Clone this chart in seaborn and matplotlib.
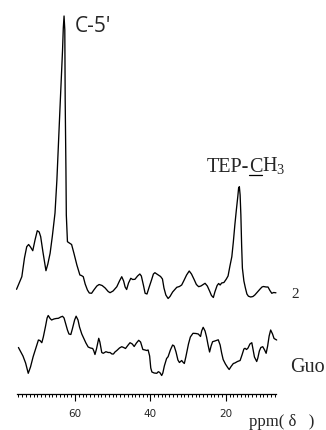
import numpy as np
import pandas as pd
import matplotlib
matplotlib.use("Agg")
import matplotlib.pyplot as plt
from matplotlib.ticker import FixedLocator
import seaborn as sns

# 13C CP/MAS spectra: chemical shift (ppm) and relative intensity (a.u.)
ppm_2 = [75.5, 74.1, 73.4, 72.8, 72.3, 71.8, 71.2, 70.6, 70.0, 69.5, 69.1, 68.5,
         67.7, 67.2, 66.6, 66.0, 65.3, 64.8, 64.0, 63.3, 63.1, 62.9, 62.7, 62.6,
         62.4, 62.3, 62.0, 61.5, 60.9, 60.3, 59.5, 58.7, 58.3, 57.8, 57.3, 56.7,
         56.2, 55.6, 55.0, 54.2, 53.6, 52.8, 52.0, 51.2, 50.7, 49.9, 48.9, 48.2,
         47.6, 47.1, 46.7, 46.3, 45.8, 45.2, 44.7, 44.1, 43.4, 42.8, 42.4, 41.8,
         41.4, 40.9, 40.4, 39.7, 39.2, 38.8, 38.1, 37.3, 36.8, 36.4, 35.9, 35.3,
         34.8, 34.1, 33.0, 32.3, 31.7, 31.1, 30.4, 29.7, 29.1, 28.4, 27.8, 27.2,
         26.6, 25.5, 24.9, 24.3, 23.8, 23.3, 22.9, 22.3, 21.9, 21.5, 21.1, 20.5,
         19.9, 19.4, 18.9, 18.4, 18.0, 17.6, 17.2, 16.8, 16.6, 16.4, 16.2, 16.0,
         15.8, 15.6, 15.2, 14.8, 14.4, 14.0, 13.4, 12.8, 12.3, 11.6, 10.9, 10.4,
         10.0, 9.3, 8.8, 8.3, 7.8, 7.3, 6.7]
int_2 = [10.7, 23.3, 42, 53.3, 55.5, 53, 49.3, 60, 69.3, 68, 63.3, 48,
         29.3, 36, 46.7, 64, 87, 120, 190, 250, 272, 284, 270, 200,
         130, 85, 58.3, 57, 55.5, 47, 35, 25, 24.5, 23.3, 16, 10,
         7, 6.7, 10, 14, 15.5, 14.5, 12, 8.5, 7.3, 9, 13.3, 19,
         23.3, 19, 13, 10.5, 17, 21.7, 20.5, 20.7, 24, 26, 24, 14,
         6.7, 6, 12, 20, 26, 27.3, 25.5, 23.5, 21, 12, 5, 1.5,
         3.5, 8, 12.7, 13.5, 15, 19.5, 25, 29, 26, 20.5, 15.5, 13.3,
         14, 16.7, 14, 9, 4.5, 2.5, 8, 14.5, 16.5, 15, 17, 17.5,
         20.7, 24, 34, 43.3, 58, 75, 90, 104, 112, 113.3, 105, 85,
         55, 32, 19, 12, 6, 3.8, 3, 3.5, 5, 8, 11, 13,
         13.5, 13, 13, 9.5, 6.7, 7.5, 7.2]

ppm_guo = [75.0, 74.5, 73.8, 73.1, 72.4, 71.8, 71.1, 70.3, 69.7, 69.3, 68.8, 68.4,
           67.8, 67.4, 67.1, 66.6, 66.2, 65.6, 65.0, 64.4, 63.8, 63.3, 62.9, 62.5,
           62.0, 61.6, 61.1, 60.7, 60.1, 59.7, 59.2, 58.8, 58.2, 57.6, 57.1, 56.5,
           55.9, 55.3, 55.0, 54.7, 54.3, 53.7, 53.4, 52.9, 52.5, 51.8, 51.2, 50.7,
           50.2, 49.8, 49.4, 48.9, 48.2, 47.6, 47.1, 46.6, 45.9, 45.4, 44.8, 44.3,
           43.7, 43.1, 42.6, 42.0, 41.4, 41.0, 40.6, 40.2, 39.9, 39.6, 39.0, 38.3,
           37.9, 37.5, 37.0, 36.7, 36.3, 35.7, 35.3, 34.7, 34.1, 33.7, 33.2, 32.7,
           32.3, 31.7, 31.4, 31.0, 30.6, 29.9, 29.4, 28.7, 27.9, 27.3, 26.7, 26.4,
           26.0, 25.5, 25.1, 24.7, 24.3, 23.9, 23.5, 22.9, 22.0, 21.5, 21.1, 20.7,
           20.1, 19.5, 19.1, 18.6, 18.0, 17.6, 16.9, 16.2, 15.7, 15.2, 14.9, 14.5,
           14.1, 13.6, 13.1, 12.8, 12.4, 11.8, 11.5, 11.1, 10.7, 10.2, 9.7, 9.3,
           8.9, 8.5, 8.1, 7.6, 7.2, 6.5]
int_guo = [32.5, 29, 24, 17, 6.7, 13, 23.3, 33, 40, 39.5, 37.3, 43,
           54, 62, 64.5, 61.5, 60, 61, 61.5, 61.7, 63, 63.7, 62, 56.5,
           50, 46, 45.5, 51, 60, 63.8, 60, 53, 46, 41, 37, 33,
           32, 31.5, 29, 25.5, 31, 41.7, 38, 27.5, 26.7, 28.3, 27.5, 27.5,
           26, 26, 28, 29.5, 32, 33.3, 32.5, 31.5, 35, 37.3, 36, 33.5,
           37, 39.7, 38, 30.5, 30, 29.5, 30, 24, 12, 8, 7, 6.7,
           8.3, 7.5, 4.5, 7, 14, 21.5, 23.3, 30, 35, 34, 28, 20,
           17.5, 19.5, 18, 16.5, 23, 36, 43, 46.7, 46.5, 46, 43.5, 49,
           52.7, 49, 43, 35, 28, 34, 38.3, 39, 40.2, 35, 27, 20.5,
           16, 12.5, 10.5, 13.5, 16.5, 17, 18.5, 19.5, 25, 31, 31.7, 30.5,
           32, 36, 37.3, 31, 23, 18.5, 22, 29, 32.5, 33.3, 30, 26.7,
           34, 44, 50, 46, 41.5, 40]

tick_major = [60, 40, 20]
tick_minor = list(range(7, 76))
scale_range = (6.7, 75.4)
trace_labels = ["2", "Guo"]
axis_label = "ppm( \u03b4   )"

sns.set_theme(style="white")
plt.rcParams["mathtext.fontset"] = "custom"
plt.rcParams["mathtext.rm"] = "Liberation Serif"

fig = plt.figure(figsize=(3.26, 4.30), dpi=100)
ax = fig.add_axes([0, 0, 1, 1])
ax.set_xlim(79.89, -6.58)
ax.set_ylim(0, 430)

# vertical stacking of the two spectra
offset_2, offset_guo = 130, 50
df2 = pd.DataFrame({"ppm": ppm_2, "y": np.array(int_2) + offset_2})
dfg = pd.DataFrame({"ppm": ppm_guo, "y": np.array(int_guo) + offset_guo})
sns.lineplot(data=df2, x="ppm", y="y", ax=ax, color="black", lw=0.95,
             estimator=None, sort=False)
sns.lineplot(data=dfg, x="ppm", y="y", ax=ax, color="black", lw=0.95,
             estimator=None, sort=False)

# ppm scale
for s in ["left", "top", "right"]:
    ax.spines[s].set_visible(False)
ax.spines["bottom"].set_position(("data", 36.5))
ax.spines["bottom"].set_bounds(*scale_range)
ax.spines["bottom"].set_color("black")
ax.spines["bottom"].set_linewidth(0.9)
ax.xaxis.set_major_locator(FixedLocator(tick_major))
ax.xaxis.set_minor_locator(FixedLocator(tick_minor))
ax.set_xticklabels([str(t) for t in tick_major])
ax.tick_params(axis="x", which="major", direction="out", length=4.8, width=0.8,
               color="black", pad=6.5, labelsize=7.5, bottom=True)
ax.tick_params(axis="x", which="minor", direction="out", length=2.4, width=0.7,
               color="black", bottom=True)
ax.set_yticks([])
ax.set_xlabel("")
ax.set_ylabel("")
for lbl in ax.get_xticklabels():
    lbl.set_fontfamily("DejaVu Sans")

# peak assignments
ax.text(60.0, 398.3, "C-5'", fontsize=15, family="Open Sans",
        ha="left", va="baseline")
serif = dict(fontsize=14.5, family="Liberation Serif")
t_a = ax.text(25.1, 258.3, "TEP-", ha="left", va="baseline", **serif)
t_c = ax.annotate("C", xy=(1, 0), xycoords=t_a, ha="left", va="bottom", **serif)
t_h = ax.annotate("H$_3$", xy=(1, 0), xycoords=t_c, ha="left", va="bottom", **serif)

# spectrum labels
ax.text(2.5, 131.7, trace_labels[0], fontsize=11, family="Liberation Serif",
        ha="left", va="baseline")
ax.text(3.0, 58.3, trace_labels[1], fontsize=14.5, family="Liberation Serif",
        ha="left", va="baseline")
ax.text(13.85, 3.5, axis_label, fontsize=12, family="Liberation Serif",
        ha="left", va="baseline")

# underline the methyl carbon of the label
fig.canvas.draw()
bb = t_c.get_window_extent(fig.canvas.get_renderer())
inv = ax.transData.inverted()
(x0, _), (x1, _) = inv.transform([(bb.x0 + 0.5, 0), (bb.x1 - 0.5, 0)])
y_ul = inv.transform([(0, 430 - 174.5)])[0][1]
ax.plot([x0, x1], [y_ul, y_ul], color="black", lw=0.9)

fig.savefig("out.png", dpi=100, facecolor="white")
